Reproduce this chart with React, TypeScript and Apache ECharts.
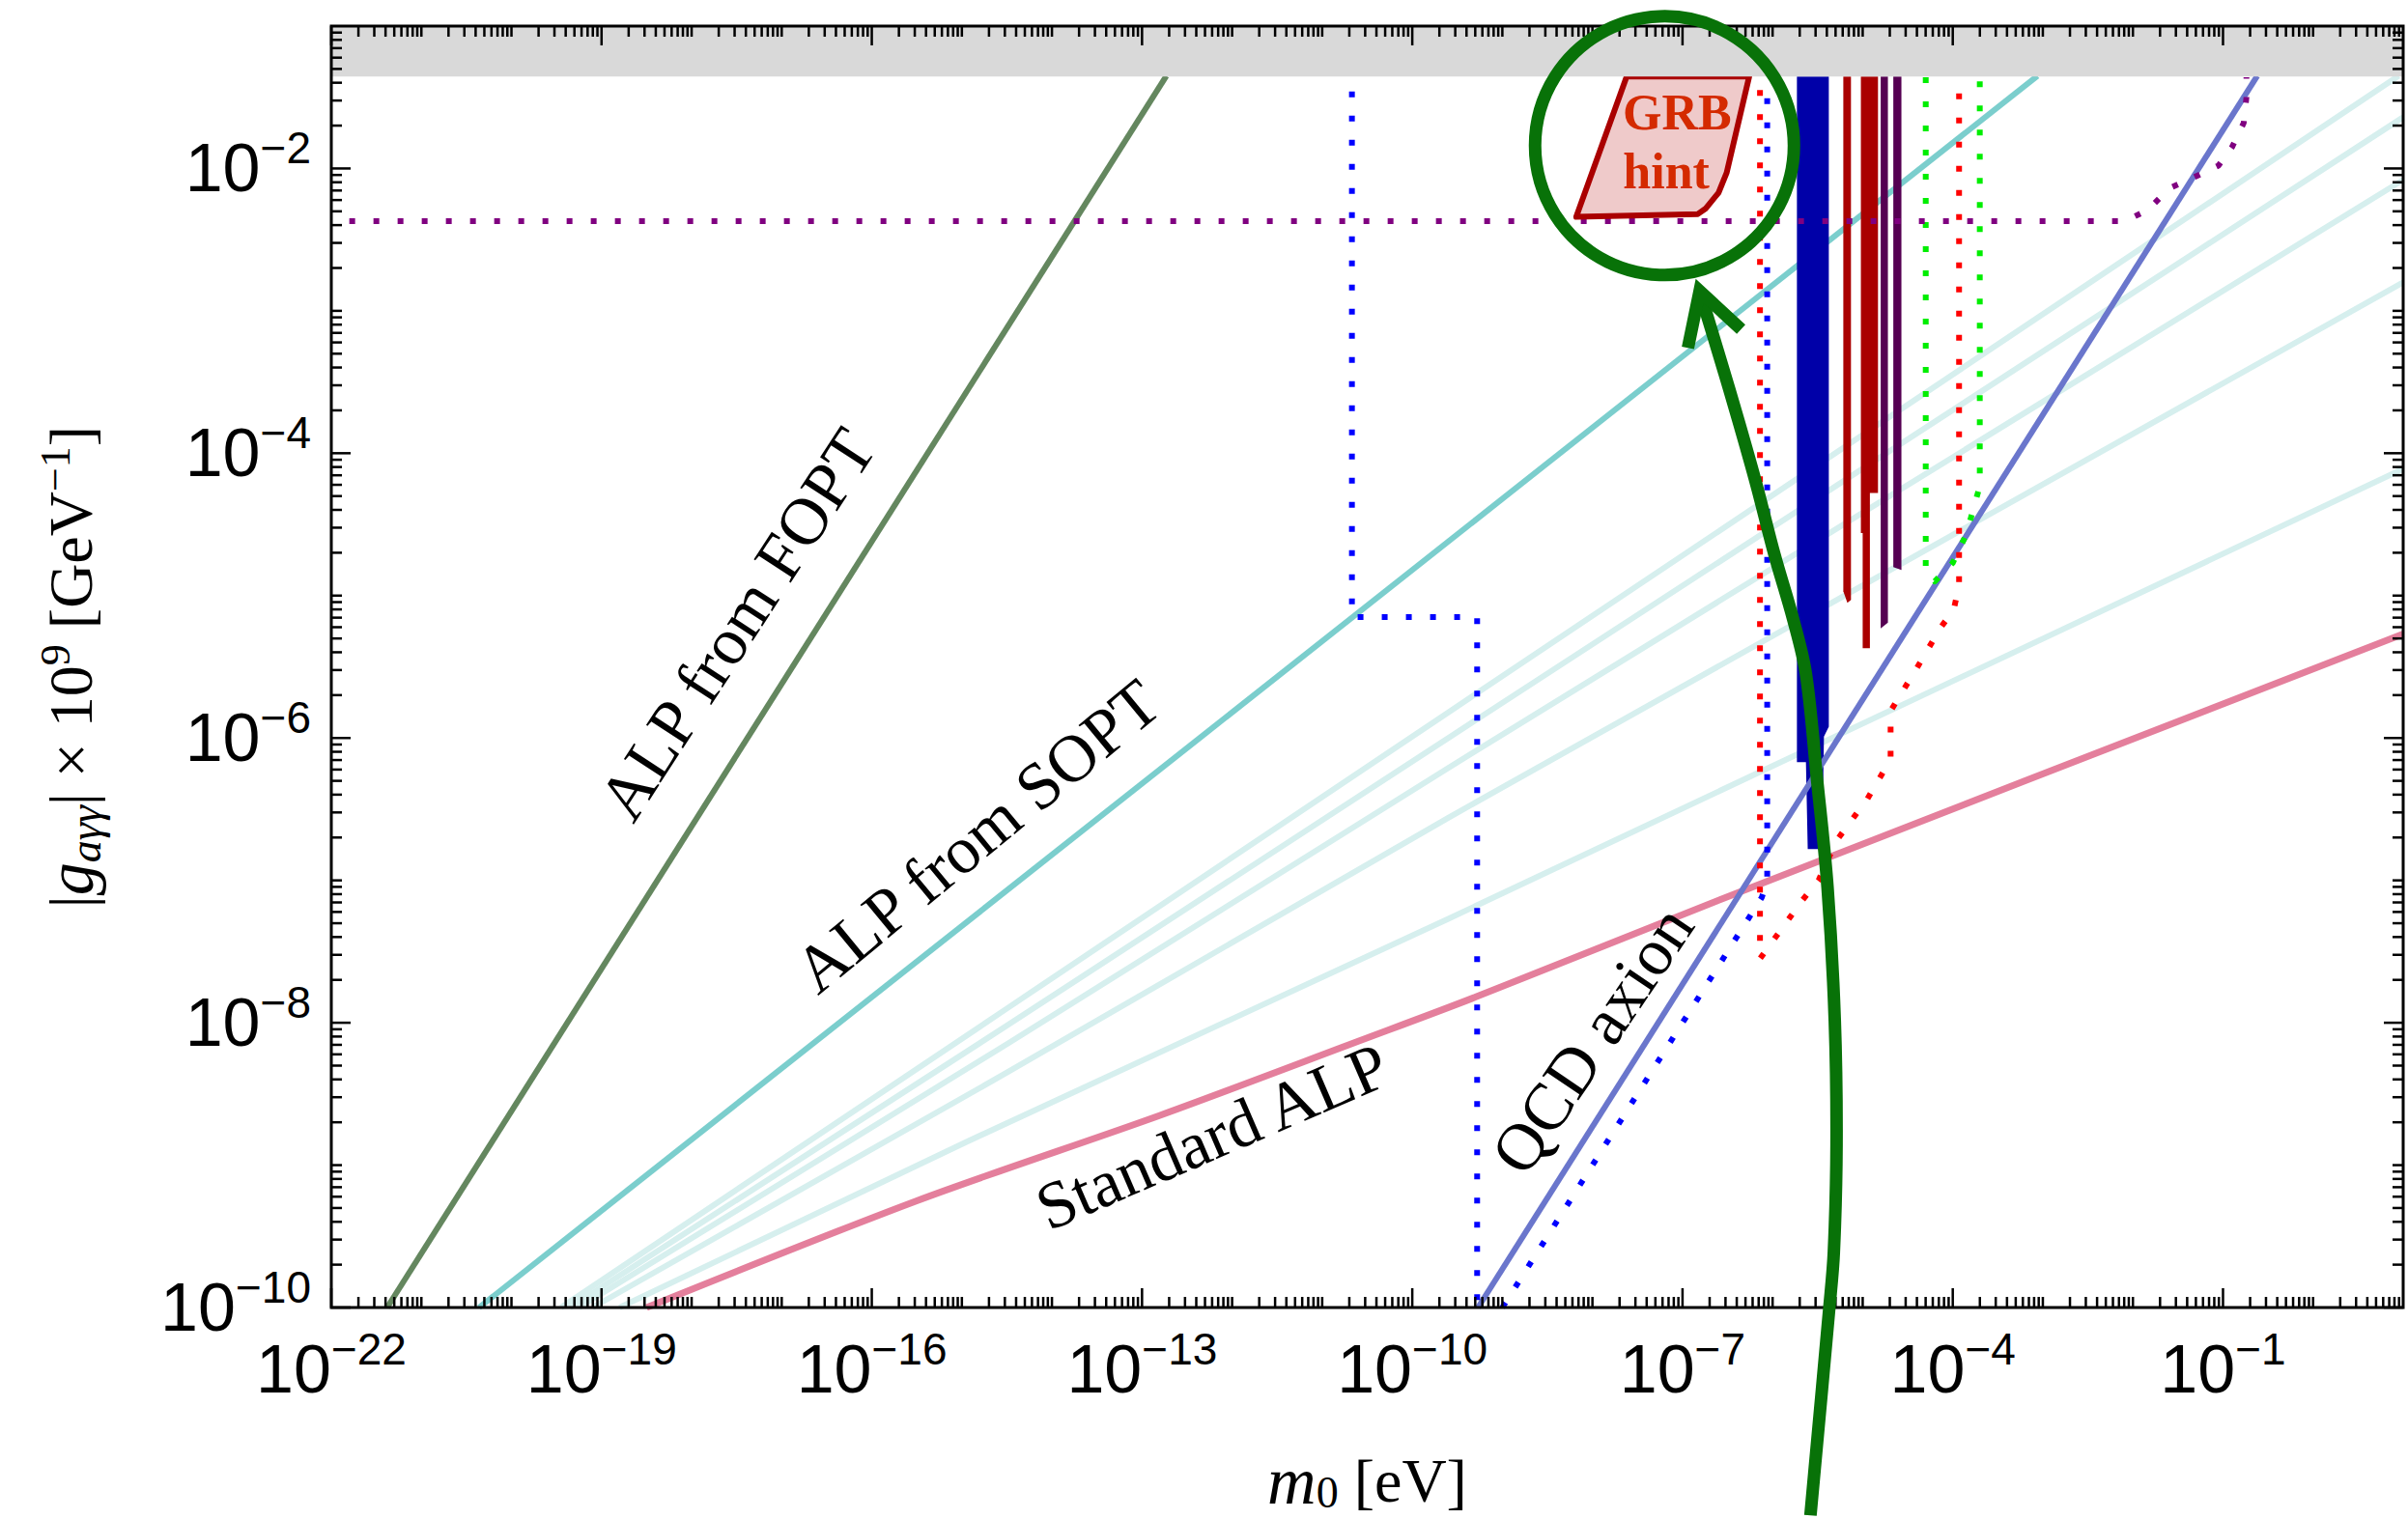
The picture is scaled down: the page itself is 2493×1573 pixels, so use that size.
import React, { useEffect, useRef } from "react";
import * as echarts from "echarts";

// ---- axis ranges (log10 units) ----
const X_MIN = -22;
const X_MAX = 1;
const Y_MIN = -10;
const Y_MAX = -1;
const X_LABELED = [-22, -19, -16, -13, -10, -7, -4, -1];
const Y_LABELED = [-10, -8, -6, -4, -2];
const GREY_LOW = -1.354;

// ---- curves: [log10(m0/eV), log10(|g| x 1e9 GeV^-1)] ----
const alpFOPT = [[-21.38, -10], [-12.73, -1.35]];
const alpSOPT = [[-20.36, -10], [-3.06, -1.35]];
const light1 = [[-19.45, -10], [-14.5, -7.9], [-9.6, -5.82], [0.95, -1.35]];
const light2 = [[-19.35, -10], [-14.5, -8.02], [-9.6, -6.0], [1, -1.64]];
const light3 = [[-19.25, -10], [-14.5, -8.15], [-9.6, -6.21], [1, -2.08]];
const light4 = [[-19.1, -10], [-14.5, -8.35], [-9.6, -6.56], [1, -2.8]];
const light5 = [[-18.8, -10], [-14.96, -8.84], [-9.6, -7.27], [1, -4.11]];
const standardALP = [[-18.5, -10], [-15.5, -9.25], [-12.8, -8.65], [-10.6, -8.13], [-9.3, -7.82], [-6.4, -7.09], [1, -5.27]];
const qcdAxion = [[-9.27, -10], [-0.62, -1.35]];
const blueDotA = [[-10.67, -1.46], [-10.67, -5.15], [-9.28, -5.15], [-9.28, -10]];
const blueDotB = [[-9.0, -10], [-6.12, -7.12], [-6.06, -7.0], [-6.06, -1.49]];
const redDot = [[-6.14, -1.45], [-6.14, -7.55], [-5.98, -7.41], [-5.67, -7.14], [-5.49, -7.0], [-5.29, -6.72], [-4.95, -6.43], [-4.69, -6.15], [-4.69, -5.81], [-4.4, -5.51], [-4.13, -5.22], [-3.99, -5.1], [-3.93, -4.93], [-3.93, -1.4]];
const greenDot = [[-4.3, -1.36], [-4.3, -4.83], [-4.2, -4.9], [-4.0, -4.77], [-3.85, -4.57], [-3.7, -4.23], [-3.7, -1.36]];
const purpleDot = [[-21.8, -2.37], [-2.09, -2.37], [-1.83, -2.29], [-1.6, -2.14], [-1.35, -2.07], [-1.05, -1.98], [-0.9, -1.85], [-0.77, -1.68], [-0.74, -1.5], [-0.74, -1.36]];

// ---- filled regions ----
const grbHint = [[-7.62, GREY_LOW], [-6.26, GREY_LOW], [-6.51, -2.03], [-6.6, -2.17], [-6.74, -2.28], [-6.83, -2.32], [-8.18, -2.34]];
const blueBand = [[-5.73, GREY_LOW], [-5.376, GREY_LOW], [-5.376, -5.92], [-5.43, -5.99], [-5.45, -6.78], [-5.61, -6.78], [-5.63, -6.17], [-5.73, -6.17]];
const redBar1 = [[-5.215, GREY_LOW], [-5.13, GREY_LOW], [-5.13, -5.03], [-5.17, -5.05], [-5.215, -4.97]];
const redBar2 = [[-5.02, GREY_LOW], [-4.83, GREY_LOW], [-4.83, -4.28], [-4.92, -4.28], [-4.92, -5.37], [-5.0, -5.37], [-5.0, -4.56], [-5.02, -4.56]];
const purpleBar1 = [[-4.8, GREY_LOW], [-4.72, GREY_LOW], [-4.72, -5.19], [-4.8, -5.23]];
const purpleBar2 = [[-4.66, GREY_LOW], [-4.57, GREY_LOW], [-4.57, -4.82], [-4.66, -4.8]];
const greyBand = [[X_MIN, GREY_LOW], [X_MAX, GREY_LOW], [X_MAX, Y_MAX], [X_MIN, Y_MAX]];

// ---- annotation (circle + arrow) anchors in data space ----
const circleCenter = [-7.2, -1.84];
const arrowShaft = [[-6.81, -2.86], [-6.59, -3.32], [-6.38, -3.77], [-6.18, -4.22], [-5.98, -4.71], [-5.77, -5.17], [-5.63, -5.55], [-5.51, -6.27], [-5.39, -7.05], [-5.31, -7.98], [-5.29, -8.85], [-5.32, -9.61], [-5.37, -10.0], [-5.58, -11.46]];
const arrowHead = [[-6.94, -3.26], [-6.81, -2.86], [-6.35, -3.13]];

// ---- text annotations ----
const curveLabels = [
  { text: "ALP from FOPT", pos: [-17.5, -5.2], angle: 57 },
  { text: "ALP from SOPT", pos: [-14.83, -6.69], angle: 39.5 },
  { text: "Standard ALP", pos: [-12.22, -8.8], angle: 23.3 },
  { text: "QCD axion", pos: [-8.0, -8.12], angle: 56 },
];
const grbLabels = [
  { text: "GRB", pos: [-7.06, -1.605] },
  { text: "hint", pos: [-7.18, -2.02] },
];

const TICK_FONT = "'Liberation Sans Narrow', 'Liberation Sans', Arial, sans-serif";
const SERIF = "'Liberation Serif', 'Times New Roman', serif";
const GREEN = "#087208";

function lineSeries(data: number[][], color: string, width: number, z: number, dash?: number[], smooth?: number) {
  return {
    type: "line",
    data,
    showSymbol: false,
    symbol: "none",
    silent: true,
    smooth: smooth || false,
    z,
    lineStyle: { color, width, type: dash ? dash : "solid", cap: "butt", join: "round" },
  };
}

function polygonSeries(points: number[][], fill: string, stroke: string | null, lineWidth: number, z: number) {
  return {
    type: "custom",
    coordinateSystem: "cartesian2d",
    silent: true,
    clip: false,
    z,
    data: [points[0]],
    renderItem: (_p: any, api: any) => ({
      type: "polygon",
      shape: { points: points.map((p) => api.coord(p)) },
      style: { fill, stroke: stroke || "none", lineWidth, lineJoin: "round" },
    }),
  };
}

function buildTicks(min: number, max: number, labeled: number[]) {
  const out: number[][] = [];
  for (let n = min; n < max; n++) {
    for (let k = 1; k <= 9; k++) {
      const v = n + Math.log10(k);
      out.push([v, k === 1 && labeled.includes(n) ? 20 : 11]);
    }
  }
  return out;
}

const xTickVals = buildTicks(X_MIN, X_MAX, X_LABELED);
const yTickVals = buildTicks(Y_MIN, Y_MAX, Y_LABELED);

export default function App() {
  const ref = useRef<HTMLDivElement>(null);
  useEffect(() => {
    if (!ref.current) return;
    const chart = echarts.init(ref.current, null, { renderer: "svg" });
    const tickStyle = { stroke: "#000", lineWidth: 2.5 };
    const labelRich = {
      b: { fontSize: 70, fontFamily: TICK_FONT, lineHeight: 88, color: "#000" },
      s: { fontSize: 46, fontFamily: TICK_FONT, lineHeight: 44, verticalAlign: "top", color: "#000" },
    };
    const option: any = {
      animation: false,
      backgroundColor: "#fff",
      grid: { left: 343, right: 5, top: 27, bottom: 216, show: false },
      xAxis: {
        type: "value",
        min: X_MIN,
        max: X_MAX,
        interval: 1,
        axisLine: { show: false },
        axisTick: { show: false },
        splitLine: { show: false },
        axisLabel: {
          interval: 0,
          margin: 20,
          formatter: (v: number) => {
            const r = Math.round(v);
            return X_LABELED.includes(r) ? `{b|10}{s|\u2212${Math.abs(r)}}` : "";
          },
          rich: labelRich,
        },
        name: "{i|m}{sub|0}{n| [eV]}",
        nameLocation: "middle",
        nameGap: 144,
        nameTextStyle: {
          rich: {
            i: { fontSize: 70, fontFamily: SERIF, fontStyle: "italic", lineHeight: 70, color: "#000" },
            sub: { fontSize: 46, fontFamily: SERIF, lineHeight: 24, verticalAlign: "bottom", color: "#000" },
            n: { fontSize: 64, fontFamily: SERIF, lineHeight: 70, color: "#000" },
          },
        },
      },
      yAxis: {
        type: "value",
        min: Y_MIN,
        max: Y_MAX,
        interval: 1,
        axisLine: { show: false },
        axisTick: { show: false },
        splitLine: { show: false },
        axisLabel: {
          interval: 0,
          margin: 21,
          formatter: (v: number) => {
            const r = Math.round(v);
            return Y_LABELED.includes(r) ? `{b|10}{s|\u2212${Math.abs(r)}}` : "";
          },
          rich: labelRich,
        },
        name: "{n||}{i|g}{sub|a\u03b3\u03b3}{n|| \u00d7 10}{sup|9}{n| [GeV}{sup|\u22121}{n|]}",
        nameLocation: "middle",
        nameRotate: 90,
        nameGap: 232,
        nameTextStyle: {
          rich: {
            n: { fontSize: 64, fontFamily: SERIF, lineHeight: 76, color: "#000" },
            i: { fontSize: 68, fontFamily: SERIF, fontStyle: "italic", lineHeight: 76, color: "#000" },
            sub: { fontSize: 46, fontFamily: SERIF, fontStyle: "italic", lineHeight: 30, verticalAlign: "bottom", color: "#000" },
            sup: { fontSize: 44, fontFamily: SERIF, lineHeight: 40, verticalAlign: "top", color: "#000" },
          },
        },
      },
      series: [
        lineSeries(light1, "#d6efee", 6, 2),
        lineSeries(light2, "#d6efee", 6, 2),
        lineSeries(light3, "#d6efee", 6, 2),
        lineSeries(light4, "#d6efee", 6, 2),
        lineSeries(light5, "#d6efee", 6, 2),
        lineSeries(alpSOPT, "#7bcecd", 6, 3),
        lineSeries(alpFOPT, "#64875f", 6, 3),
        lineSeries(standardALP, "#e47f9c", 7, 3, undefined, 0.3),
        polygonSeries(blueBand, "#0000a8", null, 0, 4),
        polygonSeries(redBar1, "#aa0000", null, 0, 4),
        polygonSeries(redBar2, "#aa0000", null, 0, 4),
        polygonSeries(purpleBar1, "#550052", null, 0, 4),
        polygonSeries(purpleBar2, "#550052", null, 0, 4),
        lineSeries(qcdAxion, "#6a76cc", 6, 5),
        lineSeries(blueDotA, "#0000ff", 6, 6, [6, 19]),
        lineSeries(blueDotB, "#0000ff", 6, 6, [6, 19]),
        lineSeries(redDot, "#ff0000", 6, 6, [6, 19]),
        lineSeries(greenDot, "#00ee00", 6, 6, [6, 19]),
        lineSeries(purpleDot, "#800080", 6, 6, [6, 19]),
        polygonSeries(grbHint, "#efcaca", "#aa0000", 6, 7),
        polygonSeries(greyBand, "#d9d9d9", null, 0, 8),
        // ticks on bottom & top
        {
          type: "custom",
          coordinateSystem: "cartesian2d",
          silent: true,
          clip: false,
          z: 9,
          data: xTickVals.map((t) => [t[0], Y_MIN, t[1]]),
          renderItem: (_p: any, api: any) => {
            const v = api.value(0);
            const len = api.value(2);
            const b = api.coord([v, Y_MIN]);
            const t = api.coord([v, Y_MAX]);
            return {
              type: "group",
              children: [
                { type: "line", shape: { x1: b[0], y1: b[1], x2: b[0], y2: b[1] - len }, style: tickStyle },
                { type: "line", shape: { x1: t[0], y1: t[1], x2: t[0], y2: t[1] + len }, style: tickStyle },
              ],
            };
          },
        },
        // ticks on left & right
        {
          type: "custom",
          coordinateSystem: "cartesian2d",
          silent: true,
          clip: false,
          z: 9,
          data: yTickVals.map((t) => [X_MIN, t[0], t[1]]),
          renderItem: (_p: any, api: any) => {
            const v = api.value(1);
            const len = api.value(2);
            const l = api.coord([X_MIN, v]);
            const r = api.coord([X_MAX, v]);
            return {
              type: "group",
              children: [
                { type: "line", shape: { x1: l[0], y1: l[1], x2: l[0] + len, y2: l[1] }, style: tickStyle },
                { type: "line", shape: { x1: r[0], y1: r[1], x2: r[0] - len, y2: r[1] }, style: tickStyle },
              ],
            };
          },
        },
        // frame
        {
          type: "custom",
          coordinateSystem: "cartesian2d",
          silent: true,
          clip: false,
          z: 10,
          data: [[X_MIN, Y_MIN]],
          renderItem: (_p: any, api: any) => {
            const a = api.coord([X_MIN, Y_MAX]);
            const b = api.coord([X_MAX, Y_MIN]);
            return {
              type: "rect",
              shape: { x: a[0], y: a[1], width: b[0] - a[0], height: b[1] - a[1] },
              style: { fill: "none", stroke: "#000", lineWidth: 3 },
            };
          },
        },
        // curve labels
        {
          type: "custom",
          coordinateSystem: "cartesian2d",
          silent: true,
          clip: false,
          z: 11,
          data: curveLabels.map((c) => c.pos),
          renderItem: (p: any, api: any) => {
            const c = curveLabels[p.dataIndex];
            const xy = api.coord(c.pos);
            return {
              type: "text",
              x: xy[0],
              y: xy[1],
              rotation: (c.angle * Math.PI) / 180,
              style: { text: c.text, fill: "#000", font: `69px ${SERIF}`, align: "center", verticalAlign: "middle" },
            };
          },
        },
        // GRB hint text
        {
          type: "custom",
          coordinateSystem: "cartesian2d",
          silent: true,
          clip: false,
          z: 11,
          data: grbLabels.map((c) => c.pos),
          renderItem: (p: any, api: any) => {
            const c = grbLabels[p.dataIndex];
            const xy = api.coord(c.pos);
            return {
              type: "text",
              x: xy[0],
              y: xy[1],
              style: { text: c.text, fill: "#d42a00", font: `bold 52px ${SERIF}`, align: "center", verticalAlign: "middle" },
            };
          },
        },
        // green circle + arrow annotation
        {
          type: "custom",
          coordinateSystem: "cartesian2d",
          silent: true,
          clip: false,
          z: 20,
          data: [circleCenter],
          renderItem: (_p: any, api: any) => {
            const c = api.coord(circleCenter);
            return {
              type: "group",
              children: [
                { type: "circle", shape: { cx: c[0], cy: c[1], r: 134 }, style: { fill: "none", stroke: GREEN, lineWidth: 13 } },
                {
                  type: "polyline",
                  shape: { points: arrowShaft.map((q) => api.coord(q)), smooth: 0.35 },
                  style: { fill: "none", stroke: GREEN, lineWidth: 13 },
                },
                {
                  type: "polyline",
                  shape: { points: arrowHead.map((q) => api.coord(q)) },
                  style: { fill: "none", stroke: GREEN, lineWidth: 13, lineJoin: "miter" },
                },
              ],
            };
          },
        },
      ],
    };
    chart.setOption(option);
    return () => chart.dispose();
  }, []);
  return (
    <div
      ref={ref}
      style={{ position: "fixed", left: 0, top: 0, width: 2493, height: 1573, background: "#fff" }}
    />
  );
}
